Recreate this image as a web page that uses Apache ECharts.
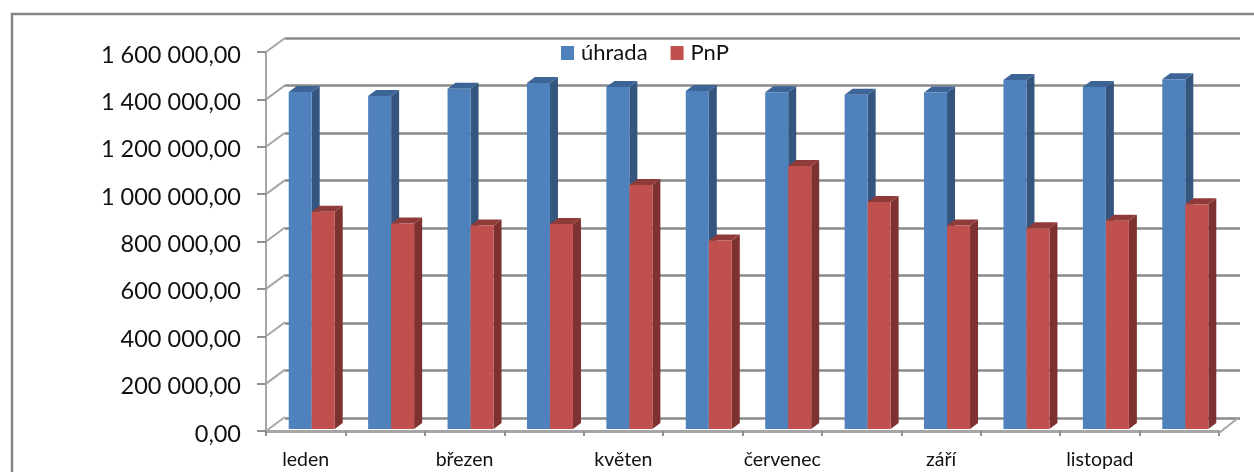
<!DOCTYPE html>
<html>
<head>
<meta charset="utf-8">
<style>
    html, body { margin: 0; padding: 0; background: #fff; }
    #chart { width: 1254px; height: 472px; }
</style>
<script src="https://cdn.jsdelivr.net/npm/echarts@6/dist/echarts.min.js"></script>
</head>
<body>
<div id="chart"></div>
<script>
const months = ['leden', 'únor', 'březen', 'duben', 'květen', 'červen', 'červenec', 'srpen', 'září', 'říjen', 'listopad', 'prosinec'];
const uhrada = [1423000, 1406000, 1436000, 1461000, 1444000, 1427000, 1422000, 1411000, 1421000, 1473000, 1444000, 1477000];
const pnp = [917000, 868000, 859000, 865000, 1030000, 796000, 1110000, 958000, 859000, 848000, 879000, 949000];
const yTicks = [0, 200000, 400000, 600000, 800000, 1000000, 1200000, 1400000, 1600000];

const FONT = 'Lato, "Open Sans", sans-serif';
const GRID_COLOR = '#8a8a8a';

// vzhled sloupcu (pseudo 3D)
const BAR_W = 23;
const DEPTH_X = 8;
const DEPTH_Y = 6;
const SHIFT_X = 6;   // sloupce nejsou uprostred kategorie
const SHIFT_Y = 2;
// posun zadni steny proti prednimu planu
const WALL_X = 19;
const WALL_Y = 14;

function formatMoney(v) {
    return String(v).replace(/\B(?=(\d{3})+$)/g, ' ') + ',00';
}

function barRenderer(side, colors) {
    return function (params, api) {
        let base = api.coord([api.value(0), 0]);
        let top = api.coord([api.value(0), api.value(1)]);
        let x0 = base[0] + SHIFT_X + (side < 0 ? -BAR_W : 0);
        let x1 = x0 + BAR_W;
        let y0 = top[1] - SHIFT_Y;
        let y1 = base[1] - SHIFT_Y;
        return {
            type: 'group',
            children: [
                {
                    type: 'polygon',
                    shape: { points: [[x1, y0], [x1 + DEPTH_X, y0 - DEPTH_Y], [x1 + DEPTH_X, y1 - DEPTH_Y], [x1, y1]] },
                    style: { fill: colors.side }
                },
                {
                    type: 'polygon',
                    shape: { points: [[x0, y0], [x0 + DEPTH_X, y0 - DEPTH_Y], [x1 + DEPTH_X, y0 - DEPTH_Y], [x1, y0]] },
                    style: { fill: colors.top }
                },
                {
                    type: 'rect',
                    shape: { x: x0, y: y0, width: BAR_W, height: y1 - y0 },
                    style: { fill: colors.front }
                }
            ]
        };
    };
}

function wallRenderer(params, api) {
    let p = api.coord([0, api.value(0)]);
    let left = p[0] - api.size([1, 0])[0] / 2;
    return {
        type: 'line',
        shape: { x1: left, y1: p[1], x2: left + WALL_X, y2: p[1] - WALL_Y },
        style: { stroke: '#a6a6a6', lineWidth: 2 }
    };
}

function floorRenderer(params, api) {
    let p = api.coord([api.value(0), 0]);
    let right = p[0] + api.size([1, 0])[0] / 2;
    return {
        type: 'line',
        shape: { x1: right, y1: p[1] + 2, x2: right + WALL_X, y2: p[1] - WALL_Y + 1 },
        style: { stroke: '#a6a6a6', lineWidth: 2 }
    };
}

let chart = echarts.init(document.getElementById('chart'));

chart.setOption({
    animation: false,
    backgroundColor: '#fff',
    legend: {
        data: ['úhrada', 'PnP'],
        left: 556,
        top: 37,
        icon: 'rect',
        itemWidth: 13,
        itemHeight: 14,
        itemGap: 23,
        itemStyle: { borderWidth: 0 },
        textStyle: { fontFamily: FONT, fontSize: 22, color: '#111', padding: [0, 0, 0, 2] }
    },
    grid: [
        { left: 266, top: 52, width: 953, height: 379 },
        // zadni stena, jen kvuli vodorovnym caram
        { left: 285, top: 38, width: 955, height: 380 }
    ],
    xAxis: [
        {
            type: 'category',
            gridIndex: 0,
            data: months,
            offset: 2,
            axisLine: { lineStyle: { color: '#a6a6a6', width: 3 } },
            axisTick: { show: true, interval: 0, length: 5, lineStyle: { color: '#8f8f8f', width: 2 } },
            axisLabel: { interval: 1, margin: 17, fontFamily: FONT, fontSize: 19.5, color: '#111' }
        },
        { type: 'category', gridIndex: 1, data: months, show: false }
    ],
    yAxis: [
        {
            type: 'value',
            gridIndex: 0,
            min: 0,
            max: 1600000,
            interval: 200000,
            splitLine: { show: false },
            axisLine: { show: true, lineStyle: { color: '#a6a6a6', width: 2 } },
            axisTick: { show: true, length: 9, lineStyle: { color: '#8f8f8f', width: 2 } },
            axisLabel: {
                margin: 25,
                fontFamily: FONT,
                fontSize: 23.5,
                color: '#111',
                verticalAlign: 'top',
                lineHeight: 6,
                formatter: formatMoney
            }
        },
        {
            type: 'value',
            gridIndex: 1,
            min: 0,
            max: 1600000,
            interval: 200000,
            axisLine: { show: false },
            axisTick: { show: false },
            axisLabel: { show: false },
            splitLine: { show: true, lineStyle: { color: GRID_COLOR, width: 2.5 } }
        }
    ],
    series: [
        {
            name: 'walls',
            type: 'custom',
            xAxisIndex: 0,
            yAxisIndex: 0,
            data: yTicks.map(v => [v]),
            encode: { y: 0 },
            clip: false,
            renderItem: wallRenderer,
            z: 1
        },
        {
            name: 'floor',
            type: 'custom',
            xAxisIndex: 0,
            yAxisIndex: 0,
            data: [[months.length - 1]],
            encode: { x: 0 },
            clip: false,
            renderItem: floorRenderer,
            z: 1
        },
        {
            name: 'úhrada',
            type: 'custom',
            xAxisIndex: 0,
            yAxisIndex: 0,
            itemStyle: { color: '#4f81bd' },
            data: uhrada.map((v, i) => [i, v]),
            encode: { x: 0, y: 1 },
            clip: false,
            renderItem: barRenderer(-1, { front: '#4f81bd', side: '#33557e', top: '#3c6496' }),
            z: 3
        },
        {
            name: 'PnP',
            type: 'custom',
            xAxisIndex: 0,
            yAxisIndex: 0,
            itemStyle: { color: '#c0504d' },
            data: pnp.map((v, i) => [i, v]),
            encode: { x: 0, y: 1 },
            clip: false,
            renderItem: barRenderer(1, { front: '#c0504d', side: '#7d3231', top: '#8f3b39' }),
            z: 4
        }
    ],
    graphic: [
        {
            type: 'polyline',
            shape: { points: [[12, 472], [12, 14], [1254, 14]] },
            style: { stroke: '#868686', lineWidth: 2.5, fill: null },
            silent: true
        }
    ]
});
</script>
</body>
</html>
